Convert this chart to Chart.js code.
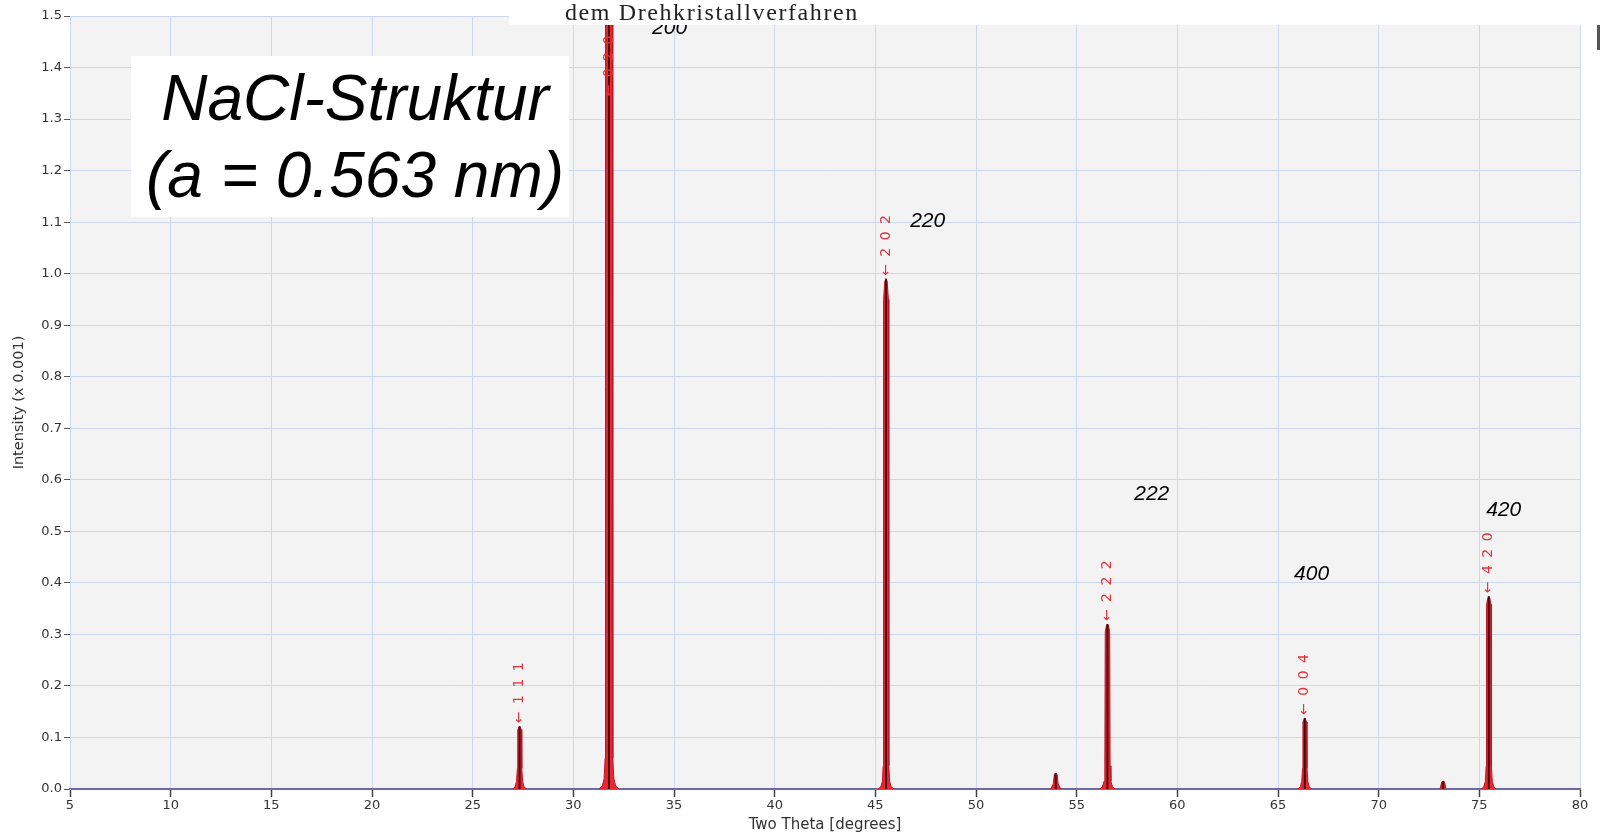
<!doctype html>
<head>
<style>
* {
    box-sizing: border-box;
    margin: 0;
    padding: 0;
}
body {
    background: #fff;
}
#wrap {
    position: relative;
    width: 1601px;
    height: 836px;
}
</style>
</head>
<div id="wrap"><canvas id="chart"></canvas></div>
<script src="https://cdn.jsdelivr.net/npm/chart.js"></script>
<script>

// simulated powder pattern (two theta in degrees, intensity x 0.001)
let twoTheta = [
    5,
    26.98, 27.11, 27.18, 27.22, 27.24, 27.33, 27.42, 27.44, 27.48, 27.55, 27.68,
    31.27, 31.44, 31.53, 31.58, 31.6, 31.7, 31.77, 31.84, 31.94, 31.96, 32.01, 32.1, 32.27,
    45.13, 45.27, 45.35, 45.39, 45.41, 45.47, 45.53, 45.59, 45.65, 45.67, 45.71, 45.79, 45.93,
    53.71, 53.84, 53.89, 53.96, 54.03, 54.08, 54.21,
    56.15, 56.28, 56.36, 56.4, 56.42, 56.48, 56.53, 56.58, 56.64, 56.66, 56.7, 56.78, 56.91,
    65.98, 66.11, 66.18, 66.22, 66.24, 66.33, 66.42, 66.44, 66.48, 66.55, 66.68,
    73.05, 73.12, 73.16, 73.24, 73.28, 73.35,
    75.09, 75.22, 75.3, 75.34, 75.36, 75.42, 75.47, 75.52, 75.58, 75.6, 75.64, 75.72, 75.85,
    80,
]
let intensity = [
    0,
    0, 0.004, 0.015, 0.04, 0.115, 0.122, 0.115, 0.04, 0.015, 0.004, 0,
    0, 0.006, 0.02, 0.06, 1.6, 1.78, 1.8, 1.78, 1.6, 0.06, 0.02, 0.006, 0,
    0, 0.004, 0.015, 0.045, 0.95, 0.985, 0.99, 0.985, 0.95, 0.045, 0.015, 0.004, 0,
    0, 0.01, 0.028, 0.031, 0.028, 0.01, 0,
    0, 0.004, 0.015, 0.045, 0.305, 0.317, 0.32, 0.317, 0.305, 0.045, 0.015, 0.004, 0,
    0, 0.004, 0.015, 0.04, 0.13, 0.138, 0.13, 0.04, 0.015, 0.004, 0,
    0, 0.012, 0.015, 0.015, 0.012, 0,
    0, 0.004, 0.015, 0.045, 0.358, 0.37, 0.374, 0.37, 0.358, 0.045, 0.015, 0.004, 0,
    0,
]

// peak maxima (dark centre sticks)
let peakPos = [27.33, 31.77, 45.53, 53.96, 56.53, 66.33, 73.2, 75.47]
let peakHeight = [0.122, 1.8, 0.99, 0.031, 0.32, 0.138, 0.015, 0.374]

// red hkl tags from the program, sitting on the peaks
let tagText = ['111', '020', '202', '222', '004', '420']
let tagX = [27.33, 31.77, 45.53, 56.53, 66.33, 75.47]
let tagY = [0.122, 1.338, 0.99, 0.32, 0.138, 0.374]

// handwritten-style italic reflection names
let hklText = ['200', '220', '222', '400', '420']
let hklX = [34.78, 47.6, 58.73, 66.67, 76.21]
let hklY = [1.465, 1.09, 0.561, 0.406, 0.53]

let points = twoTheta.map((x, i) => ({ x: x, y: intensity[i] }))
let sticks = []
peakPos.forEach((x, i) => {
    sticks.push({ x: x, y: 0 }, { x: x, y: peakHeight[i] }, { x: x, y: null })
})

let gridBlue = '#cdd7ee'
let axisBlue = '#6a6aa8'

let plotBackground = {
    id: 'plotBackground',
    beforeDraw(chart) {
        let { ctx, chartArea: a } = chart
        ctx.save()
        ctx.fillStyle = '#f3f3f3'
        ctx.fillRect(a.left, a.top, a.right - a.left, a.bottom - a.top)
        ctx.restore()
    },
}

let labels = {
    id: 'labels',
    afterDatasetsDraw(chart) {
        let ctx = chart.ctx
        let xs = chart.scales.x
        let ys = chart.scales.y
        ctx.save()
        // rotated red tags
        ctx.fillStyle = '#e2323c'
        ctx.font = '14px "DejaVu Sans"'
        ctx.letterSpacing = '1.5px'
        ctx.textAlign = 'left'
        ctx.textBaseline = 'middle'
        tagText.forEach((t, i) => {
            ctx.save()
            ctx.translate(xs.getPixelForValue(tagX[i]), ys.getPixelForValue(tagY[i]) - 3)
            ctx.rotate(-Math.PI / 2)
            ctx.fillText('\u2190 ' + t.split('').join(' '), 0, 0)
            ctx.restore()
        })
        ctx.letterSpacing = '0px'
        // italic names
        ctx.fillStyle = '#000'
        ctx.font = 'italic 21px "Liberation Sans"'
        ctx.textAlign = 'center'
        ctx.textBaseline = 'alphabetic'
        hklText.forEach((t, i) => {
            ctx.fillText(t, xs.getPixelForValue(hklX[i]), ys.getPixelForValue(hklY[i]))
        })
        ctx.restore()
    },
    afterDraw(chart) {
        let ctx = chart.ctx
        ctx.save()
        // pasted caption strip at the top
        ctx.fillStyle = '#fff'
        ctx.fillRect(509, 0, 1073, 25)
        ctx.fillStyle = '#222'
        ctx.font = '24px "Liberation Serif"'
        ctx.letterSpacing = '1.6px'
        ctx.textAlign = 'left'
        ctx.textBaseline = 'alphabetic'
        ctx.fillText('dem Drehkristallverfahren', 565, 20)
        ctx.letterSpacing = '0px'
        // structure box
        ctx.fillStyle = '#fff'
        ctx.fillRect(131, 56, 438, 161)
        ctx.fillStyle = '#000'
        ctx.font = 'italic 64px "Liberation Sans"'
        ctx.textAlign = 'center'
        ctx.fillText('NaCl-Struktur', 355, 120)
        ctx.fillText('(a = 0.563 nm)', 355, 197)
        // small dark mark at the right edge
        ctx.fillStyle = '#555'
        ctx.fillRect(1597, 25, 3, 25)
        ctx.restore()
    },
}

new Chart(document.getElementById('chart'), {
    type: 'line',
    data: {
        datasets: [
            {
                data: sticks,
                order: 0,
                borderColor: '#4a0a12',
                borderWidth: 2,
                fill: false,
                pointRadius: 0,
                spanGaps: false,
            },
            {
                data: points,
                order: 1,
                borderColor: '#c0141e',
                borderWidth: 1,
                backgroundColor: '#ea2630',
                fill: 'origin',
                pointRadius: 0,
                tension: 0,
                segment: {
                    borderColor: c => (c.p0.parsed.y === 0 && c.p1.parsed.y === 0) ? axisBlue : undefined,
                    borderWidth: c => (c.p0.parsed.y === 0 && c.p1.parsed.y === 0) ? 2 : undefined,
                },
            },
        ],
    },
    options: {
        animation: false,
        responsive: true,
        maintainAspectRatio: false,
        layout: {
            padding: { top: 16, right: 21, left: 0, bottom: 0 },
        },
        plugins: {
            legend: { display: false },
            tooltip: { enabled: false },
        },
        scales: {
            x: {
                type: 'linear',
                min: 5,
                max: 80,
                afterFit: s => { s.height = 47 },
                ticks: {
                    stepSize: 5,
                    color: '#333',
                    padding: 1,
                    maxRotation: 0,
                    font: { family: 'DejaVu Sans', size: 13 },
                },
                grid: {
                    color: gridBlue,
                    tickColor: '#444',
                    tickLength: 8,
                    tickWidth: 1.5,
                },
                border: { color: axisBlue, width: 2 },
                title: {
                    display: true,
                    text: 'Two Theta [degrees]',
                    color: '#333',
                    font: { family: 'DejaVu Sans', size: 15 },
                    padding: { top: 0, bottom: 2 },
                },
            },
            y: {
                min: 0,
                max: 1.5,
                afterFit: s => { s.width = 70 },
                ticks: {
                    stepSize: 0.1,
                    color: '#333',
                    padding: 2,
                    font: { family: 'DejaVu Sans', size: 13 },
                    callback: v => v.toFixed(1),
                },
                grid: {
                    color: gridBlue,
                    tickColor: '#555',
                    tickLength: 6,
                },
                border: { color: gridBlue },
                title: {
                    display: true,
                    text: 'Intensity (x 0.001)',
                    color: '#333',
                    font: { family: 'DejaVu Sans', size: 14.5 },
                    padding: { top: 11, bottom: 0 },
                },
            },
        },
    },
    plugins: [plotBackground, labels],
})

</script>
